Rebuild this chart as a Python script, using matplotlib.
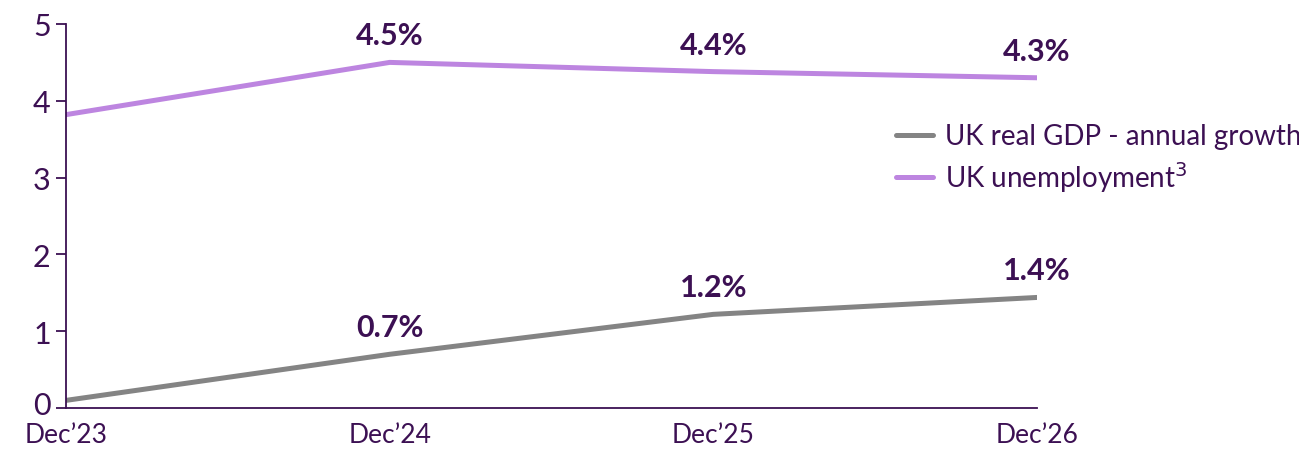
import matplotlib.pyplot as plt
import matplotlib.transforms as mtransforms

periods = ["Dec\u201923", "Dec\u201924", "Dec\u201925", "Dec\u201926"]
gdp = [0.1, 0.7, 1.22, 1.44]
unemployment = [3.82, 4.5, 4.38, 4.3]
gdp_labels = ["", "0.7%", "1.2%", "1.4%"]
unemp_labels = ["", "4.5%", "4.4%", "4.3%"]

purple = "#3c1053"
grey = "#848484"
lilac = "#bd85e0"

plt.rcParams['font.family'] = ['Lato', 'DejaVu Sans']

fig = plt.figure(figsize=(12.99, 4.52), dpi=100)
ax = fig.add_axes([0.0508, 0.095, 0.7475, 0.8497])

x = list(range(len(periods)))
ax.plot(x, gdp, color=grey, lw=3.6, solid_capstyle='round', label="UK real GDP - annual growth")
ax.plot(x, unemployment, color=lilac, lw=3.6, solid_capstyle='round', label="UK unemployment$^3$")

for xi, yi, t in zip(x, gdp, gdp_labels):
    if t:
        ax.annotate(t, (xi, yi), xytext=(0, 18), textcoords='offset pixels',
                    ha='center', va='baseline', fontsize=22, fontweight='bold', color=purple)
for xi, yi, t in zip(x, unemployment, unemp_labels):
    if t:
        ax.annotate(t, (xi, yi), xytext=(0, 18), textcoords='offset pixels',
                    ha='center', va='baseline', fontsize=22, fontweight='bold', color=purple)

ax.set_xlim(0, 3)
ax.set_ylim(0, 5)
ax.set_xticks(x)
ax.set_xticklabels(periods)
ax.set_yticks(range(6))
ax.tick_params(axis='x', length=0, pad=10, labelsize=19, colors=purple)
ax.tick_params(axis='y', length=7, width=1.3, pad=4, labelsize=22, colors=purple)
# nudge the "0" up a touch so it clears Dec'23
shift = mtransforms.ScaledTranslation(0, 4 / 72, fig.dpi_scale_trans)
for lbl in ax.get_yticklabels():
    lbl.set_verticalalignment('center_baseline')
ax.get_yticklabels()[0].set_transform(ax.get_yticklabels()[0].get_transform() + shift)
for s in ['top', 'right']:
    ax.spines[s].set_visible(False)
for s in ['left', 'bottom']:
    ax.spines[s].set_color(purple)
    ax.spines[s].set_linewidth(1.3)

leg = fig.legend(loc='upper left', bbox_to_anchor=(0.6705, 0.78), frameon=False,
                 fontsize=20, handlelength=1.35, handletextpad=0.4, labelspacing=0.35,
                 labelcolor=purple)

fig.savefig("out.png", dpi=100)
